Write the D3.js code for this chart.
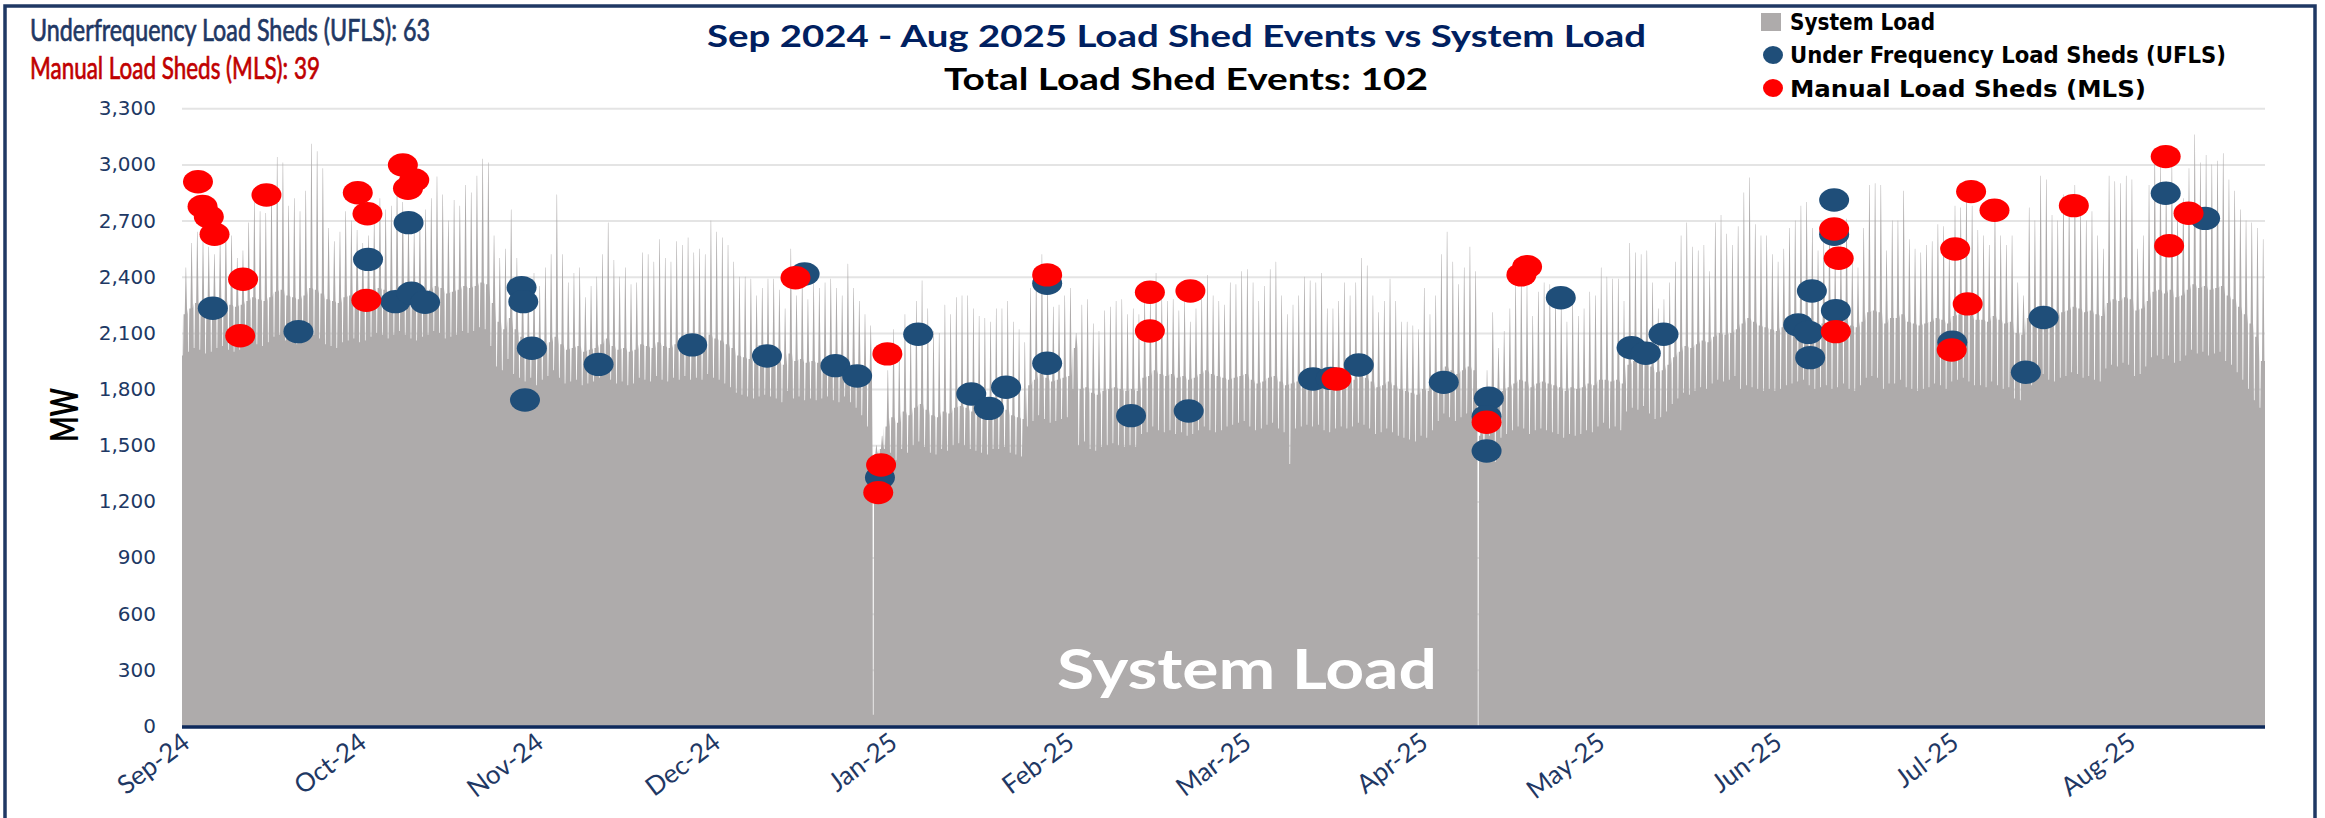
<!DOCTYPE html>
<html><head><meta charset="utf-8">
<script src="https://cdn.jsdelivr.net/npm/d3@7"></script>
<style>body{margin:0;background:#fff}svg{display:block}</style>
</head><body>
<svg id="c" width="2325" height="818"></svg>
<script>
// ---------------- DATA ----------------
const monthLabels = ["Sep-24","Oct-24","Nov-24","Dec-24","Jan-25","Feb-25","Mar-25","Apr-25","May-25","Jun-25","Jul-25","Aug-25"];
const tickDays = [0,31,62,93,124,155,186,217,248,279,310,341]; // category label interval (744 h)
const yTicks = [0,300,600,900,1200,1500,1800,2100,2400,2700,3000,3300];

// daily system load (MW), day 0 = 1 Sep 2024
const dailyPeak = [
2450,2580,2640,2600,2560,2520,2600,2660,2620,2500,
2540,2690,2800,2750,2740,2880,3040,3010,2780,2820,
2750,2860,3110,3070,2980,2660,2590,2640,2750,2700,
2650,2580,2620,2700,2820,2760,2780,2910,2800,2700,
2650,2720,2760,2820,2935,2840,2700,2810,2780,2890,
2850,2940,3030,3010,2620,2500,2550,2760,2500,2400,
2380,2420,2350,2450,2520,2840,2520,2370,2420,2450,
2290,2350,2400,2520,2690,2490,2400,2450,2360,2370,
2530,2520,2480,2600,2500,2480,2590,2570,2610,2530,
2550,2520,2700,2640,2610,2570,2480,2400,2400,2390,
2300,2340,2390,2390,2330,2230,2550,2300,2390,2280,
2370,2340,2370,2390,2340,2300,2470,2340,2270,2200,
2140,1500,1550,1900,2120,2000,2200,2120,2270,2380,
2230,2110,2100,2250,2200,2290,2300,2300,2230,2190,
2180,2160,2230,2230,2270,2160,2120,2050,2340,2410,
2520,2360,2240,2250,2300,2340,2100,2250,2280,2150,
2110,2220,2240,2270,2280,2200,2230,2200,2300,2280,
2420,2300,2270,2280,2220,2270,2160,2230,2300,2410,
2300,2270,2250,2370,2360,2430,2440,2370,2270,2350,
2440,2480,2300,2200,2250,2300,2400,2380,2370,2420,
2230,2230,2270,2370,2300,2370,2500,2460,2300,2210,
2270,2390,2270,2160,2160,2140,2120,2340,2200,2300,
2520,2640,2480,2360,2450,2560,2430,1700,1900,2210,
2020,2110,2230,2370,2410,2350,2190,2320,2370,2360,
2300,2270,2160,2280,2190,2230,2320,2300,2450,2400,
2390,2390,2270,2580,2530,2520,2540,2370,2230,2280,
2370,2480,2620,2690,2560,2540,2570,2430,2690,2730,
2630,2570,2670,2850,2930,2680,2620,2620,2520,2480,
2550,2660,2700,2780,2800,2660,2540,2600,2660,2520,
2570,2710,2480,2450,2660,2890,2900,2890,2540,2700,
2700,2860,2600,2550,2530,2570,2590,2680,2670,2550,
2780,2770,2880,2780,2650,2620,2570,2770,2620,2570,
2620,2370,2300,2770,2700,2940,2920,2730,2700,2840,
2820,2890,2780,2700,2750,2620,2550,2940,2910,2900,
2940,2920,2550,2620,2890,3070,3010,2910,3010,2750,
2820,2980,3160,3010,3050,3000,3020,3060,2920,2860,
2760,2700,2690,2660,2600];
const dailyBase = [
2200,2230,2260,2250,2240,2230,2260,2270,2250,2240,
2250,2270,2290,2280,2270,2290,2320,2330,2300,2290,
2280,2300,2340,2330,2310,2280,2270,2260,2290,2300,
2310,2290,2300,2320,2340,2330,2310,2330,2350,2330,
2310,2300,2320,2330,2350,2340,2310,2320,2330,2350,
2340,2350,2370,2360,2260,2160,2120,2180,2120,2080,
2020,2040,2000,2030,2050,2080,2040,2010,2020,2030,
2000,2010,2020,2040,2070,2030,2010,2020,2000,2010,
2040,2030,2020,2050,2030,2020,2040,2030,2050,2030,
2040,2030,2090,2070,2060,2040,2020,1980,1970,1960,
1950,1960,1970,1960,1950,1930,1990,1950,1960,1940,
1950,1940,1950,1960,1940,1930,1960,1930,1900,1870,
1860,1450,1480,1600,1650,1620,1680,1660,1700,1720,
1690,1660,1650,1680,1670,1700,1710,1700,1680,1670,
1660,1650,1680,1680,1690,1660,1650,1640,1820,1850,
1880,1860,1840,1850,1860,1870,2020,1800,1810,1780,
1770,1790,1800,1810,1800,1790,1800,1790,1860,1870,
1900,1880,1870,1880,1860,1870,1850,1860,1880,1900,
1880,1870,1860,1850,1860,1870,1880,1850,1830,1840,
1860,1870,1840,1820,1830,1840,1850,1860,1850,1860,
1830,1820,1840,1850,1840,1850,1870,1860,1840,1810,
1820,1840,1820,1800,1790,1780,1770,1800,1790,1830,
1880,1920,1900,1880,1900,1920,1900,1550,1600,1800,
1760,1790,1810,1830,1850,1840,1810,1830,1840,1830,
1820,1810,1790,1810,1800,1810,1830,1820,1850,1850,
1840,1850,1830,1930,1950,1940,1960,1920,1890,1900,
1930,1970,2000,2030,2020,2040,2060,2050,2080,2100,
2090,2100,2120,2150,2180,2160,2140,2130,2120,2110,
2130,2150,2160,2180,2190,2160,2140,2150,2160,2140,
2150,2170,2140,2130,2160,2210,2220,2210,2150,2180,
2180,2200,2160,2150,2140,2150,2160,2180,2170,2150,
2190,2200,2210,2190,2170,2170,2160,2190,2170,2150,
2160,2100,2090,2180,2170,2220,2230,2200,2190,2210,
2220,2240,2230,2210,2220,2200,2190,2260,2280,2270,
2290,2280,2220,2230,2270,2320,2330,2310,2330,2290,
2300,2330,2360,2340,2350,2330,2340,2350,2300,2280,
2240,2200,2150,2080,1950];
const dailyLow = [
1980,2000,2020,2010,1990,2000,2020,2030,2010,2000,
2010,2030,2050,2040,2030,2050,2080,2090,2060,2050,
2040,2060,2100,2090,2070,2040,2030,2020,2050,2060,
2070,2050,2060,2080,2100,2090,2070,2090,2110,2090,
2070,2060,2080,2090,2110,2100,2070,2080,2090,2110,
2100,2110,2130,2120,2030,1920,1900,1960,1880,1860,
1840,1860,1820,1850,1870,1900,1860,1830,1840,1850,
1820,1830,1840,1860,1890,1850,1830,1840,1820,1830,
1860,1850,1840,1870,1850,1840,1860,1850,1870,1850,
1860,1850,1880,1860,1850,1830,1810,1780,1770,1760,
1750,1760,1770,1760,1750,1730,1790,1750,1760,1740,
1750,1740,1750,1760,1740,1730,1760,1730,1700,1660,
1600,60,1420,1480,1460,1420,1480,1460,1500,1520,
1490,1460,1450,1480,1470,1500,1510,1500,1480,1470,
1460,1450,1480,1480,1490,1460,1450,1440,1600,1630,
1660,1640,1620,1630,1640,1650,1800,1500,1520,1480,
1470,1490,1500,1510,1500,1490,1500,1490,1560,1570,
1600,1580,1570,1580,1560,1570,1550,1560,1580,1600,
1580,1570,1580,1600,1610,1620,1630,1600,1580,1590,
1610,1620,1590,1570,1400,1590,1600,1610,1600,1610,
1580,1570,1590,1600,1590,1600,1620,1610,1590,1560,
1570,1590,1570,1550,1540,1530,1520,1550,1540,1580,
1630,1670,1650,1630,1650,1670,1650,0,1450,1550,
1410,1540,1560,1580,1600,1590,1560,1580,1590,1580,
1570,1560,1540,1560,1550,1560,1580,1570,1600,1620,
1590,1600,1580,1680,1700,1690,1710,1670,1640,1650,
1680,1720,1750,1780,1770,1790,1810,1800,1830,1850,
1840,1850,1870,1800,1820,1810,1800,1790,1800,1790,
1800,1820,1830,1840,1850,1820,1800,1810,1820,1800,
1810,1830,1800,1790,1820,1860,1870,1860,1800,1830,
1830,1850,1810,1800,1790,1800,1810,1830,1820,1800,
1840,1850,1860,1840,1820,1820,1810,1840,1820,1800,
1810,1750,1740,1830,1820,1870,1880,1850,1840,1860,
1870,1890,1880,1860,1870,1850,1840,1910,1930,1920,
1940,1930,1870,1880,1920,1970,1980,1960,1980,1940,
1950,1980,2010,1990,2000,1980,1990,2000,1950,1930,
1890,1850,1800,1740,1700];

// Load shed events: position in days from 1 Sep 2024, MW at time of event
const uflsDay = [5.4,20.4,32.6,39.7,37.4,40.2,42.6,59.5,59.8,61.3,60.1,73.0,89.4,102.5,109.1,114.5,118.3,122.3,129.0,138.3,141.4,144.4,151.6,151.6,166.3,176.4,198.2,201.3,206.2,221.1,229.0,228.6,228.6,241.6,254.0,256.5,259.6,289.5,289.5,285.6,289.8,283.2,285.0,285.3,310.2,326.2,323.1,347.6,354.5];
const uflsMW  = [2232,2107,2493,2689,2267,2312,2264,2342,2267,2018,1742,1932,2036,1977,2415,1925,1870,1327,2093,1774,1697,1810,2365,1938,1658,1683,1854,1857,1929,1836,1751,1653,1469,2288,2021,1991,2093,2810,2627,2324,2219,2143,2103,1968,2050,2182,1890,2846,2712];
const mlsDay = [2.8,3.6,4.7,5.7,10.7,10.2,14.8,30.8,32.5,32.3,38.7,40.7,39.6,107.5,123.6,122.5,122.0,151.6,169.6,169.6,176.7,202.3,228.6,234.7,235.7,289.5,290.3,289.8,313.5,317.6,310.7,312.9,310.1,331.5,347.6,351.6,348.2];
const mlsMW  = [2908,2775,2721,2627,2387,2085,2837,2849,2737,2274,2997,2917,2873,2395,1988,1394,1247,2410,2317,2110,2324,1854,1623,2410,2454,2655,2499,2107,2855,2755,2548,2255,2009,2780,3042,2739,2566];

// ---------------- CHART ----------------
const svg = d3.select("#c");
const navy = "#1F3864", gray = "#AEABAB", blue = "#1F4E79", red = "#FF0000";
const x = d3.scaleLinear().domain([0,365]).range([182,2265]);
const y = d3.scaleLinear().domain([0,3300]).range([726,108.3]);

const fit = (sel,w) => sel.attr("textLength",w).attr("lengthAdjust","spacingAndGlyphs");

// frame
svg.append("rect").attr("x",5).attr("y",6).attr("width",2310).attr("height",840)
  .attr("fill","none").attr("stroke",navy).attr("stroke-width",3.5);

// gridlines
svg.append("g").attr("transform","translate(182,0)")
  .call(d3.axisLeft(y).tickValues(yTicks.filter(v=>v>0)).tickSize(-(2265-182)).tickFormat(""))
  .call(g=>g.select(".domain").remove())
  .call(g=>g.selectAll("line").attr("stroke","#E4E4E4").attr("stroke-width",2));

// system load area (one daily cycle per day: night dip, plateau, evening peak)
const pts = [];
dailyPeak.forEach((p,i)=>{
  const b = dailyBase[i], l = dailyLow[i];
  pts.push([i,b],[i+0.06,l],[i+0.18,l],[i+0.28,b],[i+0.48,b],[i+0.64,p],[i+0.72,p],[i+0.9,b]);
});
pts.push([365, dailyBase[dailyBase.length-1]]);
const area = d3.area().x(d=>x(d[0])).y0(y(0)).y1(d=>y(d[1]));
svg.append("path").datum(pts).attr("d",area).attr("fill",gray);

// y axis labels
svg.append("g").attr("transform","translate(182,0)")
  .call(d3.axisLeft(y).tickValues(yTicks).tickSize(0).tickPadding(26).tickFormat(d3.format(",")))
  .call(g=>g.select(".domain").remove())
  .call(g=>g.selectAll("text").attr("fill","#203864").style("font","20px 'DejaVu Sans'"));

// x axis
const xa = svg.append("g").attr("transform","translate(0,726)")
  .call(d3.axisBottom(x).tickValues(tickDays).tickSize(0).tickFormat((d,i)=>monthLabels[i]));
xa.select(".domain").remove();
xa.selectAll("text").attr("y",null).attr("dy",null).attr("text-anchor","end")
  .attr("transform","translate(9,20) rotate(-37)")
  .attr("fill","#1F3864").style("font","26px Lato");
svg.append("line").attr("x1",182).attr("x2",2265).attr("y1",727).attr("y2",727)
  .attr("stroke","#0E2A5C").attr("stroke-width",3.5);

// markers
const ell = (g, days, vals, col) => g.selectAll("ellipse").data(days).join("ellipse")
  .attr("cx",(d)=>x(d)).attr("cy",(d,i)=>y(vals[i])).attr("rx",15).attr("ry",11.7).attr("fill",col);
ell(svg.append("g"), uflsDay, uflsMW, blue);
ell(svg.append("g"), mlsDay, mlsMW, red);

// "System Load" label
fit(svg.append("text").attr("x",1057).attr("y",689),380)
  .attr("fill","#fff").style("font","bold 56px Lato").text("System Load");

// MW
fit(svg.append("text").attr("transform","translate(78,415) rotate(-90)").attr("text-anchor","middle"),54)
  .style("font","bold 39px Lato").attr("fill","#000").text("MW");

// top-left counts
fit(svg.append("text").attr("x",30).attr("y",41),400).attr("fill","#1F3864")
  .attr("stroke","#1F3864").attr("stroke-width",0.7)
  .style("font","30px Lato").text("Underfrequency Load Sheds (UFLS): 63");
fit(svg.append("text").attr("x",30).attr("y",79),290).attr("fill","#C00000")
  .attr("stroke","#C00000").attr("stroke-width",0.7)
  .style("font","30px Lato").text("Manual Load Sheds (MLS): 39");

// titles
fit(svg.append("text").attr("x",707).attr("y",47),939).attr("fill","#002060")
  .style("font","bold 30px Lato").text("Sep 2024 - Aug 2025 Load Shed Events vs System Load");
fit(svg.append("text").attr("x",944).attr("y",90),484).attr("fill","#000")
  .style("font","bold 30px Lato").text("Total Load Shed Events: 102");

// legend
const lg = svg.append("g");
lg.append("rect").attr("x",1761).attr("y",13).attr("width",20).attr("height",18).attr("fill",gray);
lg.append("ellipse").attr("cx",1773).attr("cy",55).attr("rx",10).attr("ry",9).attr("fill",blue);
lg.append("ellipse").attr("cx",1773).attr("cy",88).attr("rx",10).attr("ry",9).attr("fill",red);
[["System Load",30,145],["Under Frequency Load Sheds (UFLS)",63,436],["Manual Load Sheds (MLS)",97,356]]
  .forEach(([t,yy,w])=>fit(lg.append("text").attr("x",1790).attr("y",yy),w)
    .style("font","bold 23px 'DejaVu Sans'").attr("fill","#000").text(t));
</script>
</body></html>
